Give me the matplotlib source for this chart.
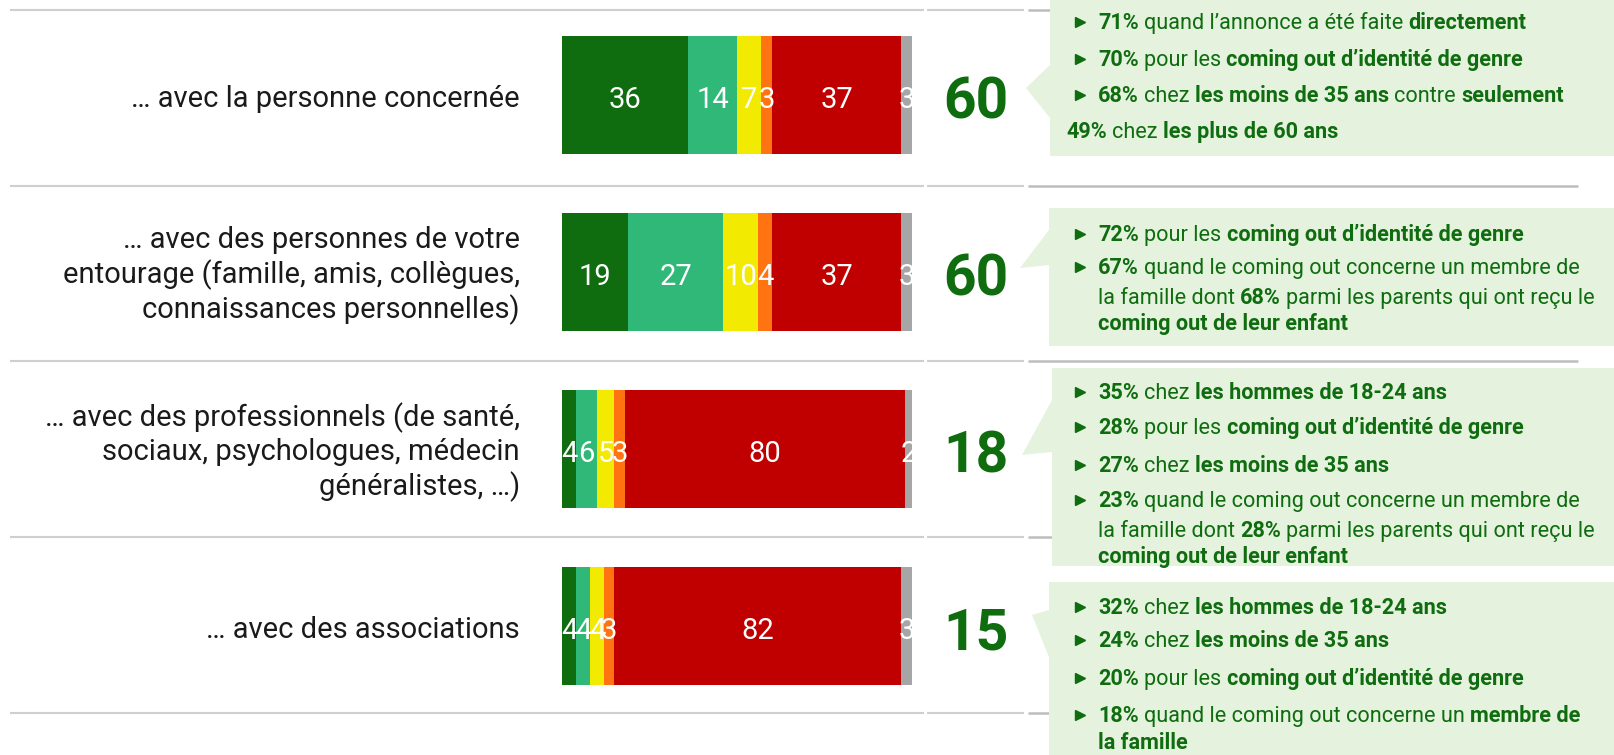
import matplotlib.pyplot as plt
from matplotlib.patches import Polygon
import numpy as np

plt.rcParams['font.family'] = ['Roboto', 'DejaVu Sans']

# rows of the chart
labels = [
    '… avec la personne concernée',
    '… avec des personnes de votre\nentourage (famille, amis, collègues,\nconnaissances personnelles)',
    '… avec des professionnels (de santé,\nsociaux, psychologues, médecin\ngénéralistes, …)',
    '… avec des associations',
]

# stacked shares, from dark green to gray
seg1 = [36, 19, 4, 4]
seg2 = [14, 27, 6, 4]
seg3 = [7, 10, 5, 4]
seg4 = [3, 4, 3, 3]
seg5 = [37, 37, 80, 82]
seg6 = [3, 3, 2, 3]
totals = [60, 60, 18, 15]

colors = ['#0f6c0f', '#30b878', '#f2ea00', '#ff7311', '#c00000', '#a6a6a6']
GREEN = '#0f6c0f'

# callout notes: (kind, [(text, bold), ...]) ; b = bullet, c = continuation, o = outdent
notes = [
    [('b', [('71%', 1), ('quand l’annonce a été faite', 0), ('directement', 1)]),
     ('b', [('70%', 1), ('pour les', 0), ('coming out d’identité de genre', 1)]),
     ('b', [('68%', 1), ('chez', 0), ('les moins de 35 ans', 1), ('contre', 0), ('seulement', 1)]),
     ('o', [('49%', 1), ('chez', 0), ('les plus de 60 ans', 1)])],
    [('b', [('72%', 1), ('pour les', 0), ('coming out d’identité de genre', 1)]),
     ('b', [('67%', 1), ('quand le coming out concerne un membre de', 0)]),
     ('c', [('la famille dont', 0), ('68%', 1), ('parmi les parents qui ont reçu le', 0)]),
     ('c', [('coming out de leur enfant', 1)])],
    [('b', [('35%', 1), ('chez', 0), ('les hommes de 18-24 ans', 1)]),
     ('b', [('28%', 1), ('pour les', 0), ('coming out d’identité de genre', 1)]),
     ('b', [('27%', 1), ('chez', 0), ('les moins de 35 ans', 1)]),
     ('b', [('23%', 1), ('quand le coming out concerne un membre de', 0)]),
     ('c', [('la famille dont', 0), ('28%', 1), ('parmi les parents qui ont reçu le', 0)]),
     ('c', [('coming out de leur enfant', 1)])],
    [('b', [('32%', 1), ('chez', 0), ('les hommes de 18-24 ans', 1)]),
     ('b', [('24%', 1), ('chez', 0), ('les moins de 35 ans', 1)]),
     ('b', [('20%', 1), ('pour les', 0), ('coming out d’identité de genre', 1)]),
     ('b', [('18%', 1), ('quand le coming out concerne un', 0), ('membre de', 1)]),
     ('c', [('la famille', 1)])],
]

# layout (pixels)
W, H = 1615, 755
baselines = [[29, 66, 102, 138],
             [241, 274, 304, 330],
             [399, 434, 472, 507, 537, 563],
             [614, 647, 685, 722, 749]]
boxes = [
    [(1050, 0), (1615, 0), (1615, 156), (1050, 156), (1050, 118), (1026, 88), (1050, 65)],
    [(1049, 208), (1615, 208), (1615, 346), (1049, 346), (1049, 265), (1020, 268), (1049, 230)],
    [(1052, 368), (1615, 368), (1615, 566), (1052, 566), (1052, 452), (1022, 455), (1052, 400)],
    [(1049, 582), (1615, 582), (1615, 755), (1049, 755), (1049, 657), (1032, 615), (1049, 610)],
]
sep_y = [9.5, 186, 361, 537, 713]

fig = plt.figure(figsize=(W / 100, H / 100), dpi=100)

# overlay axes in pixel units for separators and callouts
ov = fig.add_axes([0, 0, 1, 1])
ov.set_xlim(0, W)
ov.set_ylim(H, 0)
ov.axis('off')

for y in sep_y:
    ov.plot([10, 924], [y, y], color='#cfcfcf', lw=1.5, solid_capstyle='butt', zorder=1)
    ov.plot([927, 1024], [y, y], color='#cfcfcf', lw=1.5, solid_capstyle='butt', zorder=1)
    ov.plot([1028, 1578], [y, y], color='#bdbdbd', lw=1.8, solid_capstyle='butt', zorder=1)

for pts in boxes:
    ov.add_patch(Polygon(pts, closed=True, facecolor='#e4f2de', edgecolor='none', zorder=2))

renderer = fig.canvas.get_renderer()
FS = 15.6


def text_w(s, bold):
    t = ov.text(0, 0, s, fontsize=FS, fontweight='bold' if bold else 'normal')
    w = t.get_window_extent(renderer).width
    t.remove()
    return w


space_w = text_w('a a', 0) - text_w('aa', 0)

for note, ys in zip(notes, baselines):
    for (kind, parts), y in zip(note, ys):
        x = 1066 if kind == 'o' else 1098
        if kind == 'b':
            ov.plot(1080, y - 7, marker='>', markersize=7, color=GREEN, zorder=3)
        for s, b in parts:
            t = ov.text(x, y, s, fontsize=FS, color=GREEN, fontweight='bold' if b else 'normal',
                        ha='left', va='baseline', zorder=3)
            x += t.get_window_extent(renderer).width + space_w

# bar axes
ax = fig.add_axes([562 / W, 40.5 / H, 350 / W, 708 / H])
ax.set_xlim(0, 100)
ax.set_ylim(3.5, -0.5)
ax.axis('off')

ypos = np.arange(len(labels))
segs = np.array([seg1, seg2, seg3, seg4, seg5, seg6])
left = np.zeros(len(labels))
for vals, c in zip(segs, colors):
    ax.barh(ypos, vals, left=left, height=118 / 177, color=c, edgecolor='none')
    for i, v in enumerate(vals):
        ax.text(left[i] + v / 2, i + 0.073, str(v), ha='center', va='baseline', color='white',
                fontsize=21, fontweight='normal', clip_on=True)
    left += vals

for i, (lab, tot) in enumerate(zip(labels, totals)):
    ax.text(-0.12, i + 0.02, lab, transform=ax.get_yaxis_transform(), ha='right', va='center',
            fontsize=21, color='#1a1a1a', linespacing=1.22)
    ax.text(118.3, i + 0.133, str(tot), ha='center', va='baseline', fontsize=41,
            fontweight='bold', color=GREEN)

fig.savefig('out.png', dpi=100)
